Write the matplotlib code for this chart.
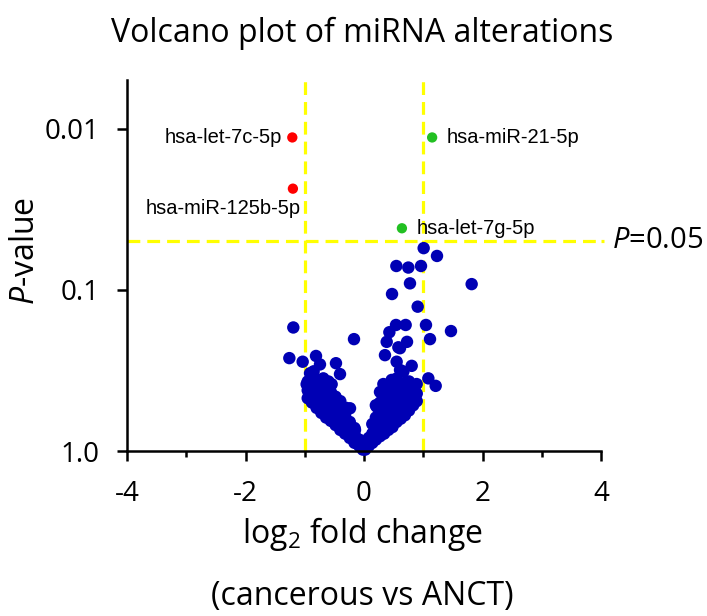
import matplotlib
matplotlib.use("Agg")
import matplotlib.pyplot as plt
from matplotlib.ticker import FixedLocator, NullFormatter

plt.rcParams['font.family'] = ['Open Sans', 'DejaVu Sans']
plt.rcParams['mathtext.fontset'] = 'custom'
plt.rcParams['mathtext.rm'] = 'Open Sans'
plt.rcParams['mathtext.it'] = 'Open Sans:italic'

# Significant miRNAs
down_names = ["hsa-let-7c-5p", "hsa-miR-125b-5p"]
down_fc = [-1.21, -1.20]
down_p = [0.0113, 0.0235]

up_names = ["hsa-miR-21-5p", "hsa-let-7g-5p"]
up_fc = [1.15, 0.64]
up_p = [0.0113, 0.0414]

# Non-significant miRNAs (scattered)
ns_fc = [1.007, 1.232, 0.546, 0.748, 0.962, 0.776, 1.817, 0.473, 0.906, -1.193,
         0.540, 0.703, 1.046, 1.468, -0.169, 0.428, 0.383, 0.726, 1.114, 0.608,
         0.354, -1.260, -1.035, -0.810, -0.743, -0.473, -0.405, 0.551, 0.608, 0.805,
         -0.911, 1.086, 1.210, -0.968, -0.686, -0.546, -0.236, 0.214, 0.844, -0.152,
         0.327, 0.467, 0.720, 0.889, 0.665, 0.580]
ns_p = [0.055, 0.0615, 0.071, 0.0726, 0.071, 0.091, 0.092, 0.106, 0.127, 0.171,
        0.165, 0.165, 0.165, 0.18, 0.202, 0.183, 0.21, 0.21, 0.202, 0.23,
        0.254, 0.265, 0.279, 0.257, 0.29, 0.285, 0.333, 0.279, 0.314, 0.296,
        0.329, 0.354, 0.394, 0.385, 0.354, 0.385, 0.543, 0.531, 0.48, 0.74,
        0.384, 0.362, 0.372, 0.384, 0.321, 0.227]

# Dense core (left arm)
core_left_fc = [-0.95, -0.95, -0.95, -0.88, -0.88, -0.88, -0.88,
                -0.80, -0.80, -0.80, -0.80, -0.72, -0.72, -0.72, -0.72,
                -0.64, -0.64, -0.64, -0.64, -0.56, -0.56, -0.56, -0.56,
                -0.48, -0.48, -0.48, -0.48, -0.40, -0.40, -0.40, -0.40,
                -0.32, -0.32, -0.32, -0.24, -0.24, -0.24, -0.16, -0.16, -0.16,
                -0.08, -0.08, -0.02, -0.60, -0.85, -0.30]
core_left_p = [0.47, 0.42, 0.37, 0.50, 0.44, 0.38, 0.35,
               0.54, 0.47, 0.41, 0.36, 0.58, 0.50, 0.44, 0.38,
               0.62, 0.54, 0.47, 0.41, 0.65, 0.56, 0.49, 0.43,
               0.69, 0.60, 0.52, 0.46, 0.74, 0.65, 0.56, 0.49,
               0.78, 0.69, 0.60, 0.83, 0.74, 0.66, 0.89, 0.79, 0.72,
               0.93, 0.85, 0.98, 0.37, 0.32, 0.54]

# Dense core (right arm)
core_right_fc = [0.02, 0.08, 0.08, 0.14, 0.14, 0.14, 0.20, 0.20, 0.20, 0.20,
                 0.27, 0.27, 0.27, 0.27, 0.27, 0.34, 0.34, 0.34, 0.34, 0.34,
                 0.41, 0.41, 0.41, 0.41, 0.41, 0.48, 0.48, 0.48, 0.48, 0.48,
                 0.55, 0.55, 0.55, 0.55, 0.55, 0.62, 0.62, 0.62, 0.62,
                 0.69, 0.69, 0.69, 0.69, 0.76, 0.76, 0.76, 0.76,
                 0.83, 0.83, 0.83, 0.89, 0.89]
core_right_p = [0.98, 0.93, 0.83, 0.89, 0.78, 0.68, 0.85, 0.72, 0.62, 0.52,
                0.81, 0.69, 0.59, 0.50, 0.43, 0.78, 0.66, 0.56, 0.48, 0.41,
                0.74, 0.63, 0.54, 0.46, 0.39, 0.71, 0.60, 0.51, 0.44, 0.37,
                0.66, 0.56, 0.48, 0.41, 0.355, 0.63, 0.54, 0.46, 0.39,
                0.60, 0.51, 0.44, 0.38, 0.56, 0.49, 0.43, 0.37,
                0.52, 0.46, 0.40, 0.49, 0.44]

fc_threshold = [-1, 1]
p_threshold = 0.05

x_ticks = [-4, -2, 0, 2, 4]
x_minor = [-3, -1, 1, 3]
y_ticks = [0.01, 0.1, 1.0]
y_ticklabels = ["0.01", "0.1", "1.0"]

W, H = 707, 616
fig = plt.figure(figsize=(W / 100, H / 100), dpi=100)
ax = fig.add_axes([127 / W, 1 - 451 / H, (601 - 127) / W, (451 - 80) / H])

blue = "#0000B4"
yellow = "#FFFF00"
dash = (0, (4, 2.2))

ax.set_yscale("log")
ax.set_xlim(-4, 4)
ax.set_ylim(1.0, 0.00497)

for x in fc_threshold:
    ax.axvline(x, color=yellow, lw=2.3, ls=dash, zorder=1)
ax.axhline(p_threshold, color=yellow, lw=2.3, ls=dash, zorder=1)
ax.plot([4, 4.05], [p_threshold, p_threshold], color=yellow, lw=2.3, ls=dash,
        clip_on=False, zorder=1)

ax.scatter(core_left_fc + core_right_fc, core_left_p + core_right_p, s=80, color=blue,
           edgecolors="none", zorder=3, clip_on=False)
ax.scatter(ns_fc, ns_p, s=80, color=blue, edgecolors="none", zorder=3, clip_on=False)
ax.scatter(down_fc, down_p, s=55, color="#FF0000", edgecolors="none", zorder=4)
ax.scatter(up_fc, up_p, s=55, color="#22C022", edgecolors="none", zorder=4)

lab_font = dict(family="Liberation Sans", fontsize=14.5, color="black")
ax.annotate(down_names[0], (down_fc[0], down_p[0]), xytext=(-7.2, 0), textcoords="offset points",
            ha="right", va="center", **lab_font)
ax.annotate(down_names[1], (down_fc[1], down_p[1]), xytext=(5.3, -14.6), textcoords="offset points",
            ha="right", va="center", **lab_font)
ax.annotate(up_names[0], (up_fc[0], up_p[0]), xytext=(10.6, 0), textcoords="offset points",
            ha="left", va="center", **lab_font)
ax.annotate(up_names[1], (up_fc[1], up_p[1]), xytext=(10.3, 0), textcoords="offset points",
            ha="left", va="center", **lab_font)

ax.spines["top"].set_visible(False)
ax.spines["right"].set_visible(False)
for s in ["left", "bottom"]:
    ax.spines[s].set_linewidth(1.8)
    ax.spines[s].set_zorder(5)

ax.xaxis.set_major_locator(FixedLocator(x_ticks))
ax.xaxis.set_minor_locator(FixedLocator(x_minor))
ax.set_xticklabels([str(t) for t in x_ticks])
ax.yaxis.set_major_locator(FixedLocator(y_ticks))
ax.yaxis.set_minor_locator(FixedLocator([]))
ax.yaxis.set_minor_formatter(NullFormatter())
ax.set_yticklabels(y_ticklabels)
ax.tick_params(axis="both", which="major", direction="out", length=7, width=1.8,
               labelsize=20)
ax.tick_params(axis="y", which="major", pad=13)
ax.tick_params(axis="x", which="minor", direction="out", length=4, width=1.8)
ax.tick_params(axis="x", which="major", pad=14)

fig.text(25 / W, 1 - 251 / H, r"$\it{P}$-value", rotation=90, ha="center", va="center",
         fontsize=23)
fig.text(363 / W, 1 - 543 / H, r"log$_2$ fold change", ha="center", va="baseline", fontsize=23)
fig.text(362.5 / W, 1 - 605 / H, "(cancerous vs ANCT)", ha="center", va="baseline", fontsize=23)
fig.text(362.5 / W, 1 - 42 / H, "Volcano plot of miRNA alterations", ha="center", va="baseline",
         fontsize=23)
fig.text(612 / W, 1 - 248 / H, r"$\it{P}$=0.05", ha="left", va="baseline", fontsize=21)

fig.savefig("out.png", dpi=100)
